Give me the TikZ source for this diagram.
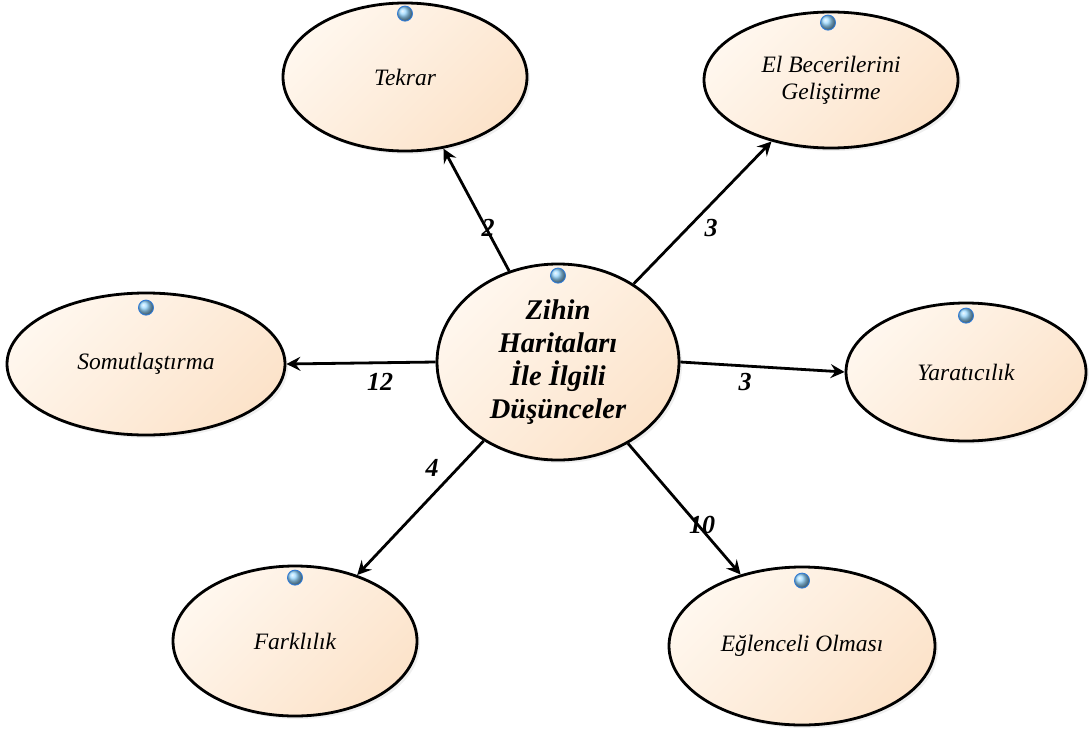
\documentclass[tikz,border=0pt]{standalone}
\usepackage{fontspec}
\setmainfont{Liberation Serif}
\usetikzlibrary{shapes.geometric,arrows.meta,shadows}

\definecolor{peachlight}{RGB}{255,247,238}
\definecolor{peachdark}{RGB}{252,227,202}
\definecolor{pinblue}{RGB}{150,215,255}

\tikzset{
  idea/.style={ellipse, draw=black, line width=2.8pt, inner sep=0pt,
    top color=peachlight, bottom color=peachdark, shading angle=45,
    drop shadow={shadow xshift=3pt, shadow yshift=-3pt, opacity=0.12, fill=gray},
    align=center, font=\fontsize{23.5}{27}\selectfont\itshape},
  hub/.style={idea, font=\fontsize{28.5}{33}\selectfont\bfseries\itshape},
  pin/.style={circle, inner sep=0pt, minimum size=15pt, ball color=pinblue,
    draw={rgb,255:red,50;green,125;blue,215}, line width=0.9pt},
  link/.style={line width=2.8pt, -{Stealth[length=14pt, width=14pt, inset=5pt]}},
  count/.style={font=\fontsize{26}{26}\selectfont\bfseries\itshape, inner sep=1pt}
}

\begin{document}
\begin{tikzpicture}[x=1pt, y=-1pt]
  \useasboundingbox (0,0) rectangle (1089,731);
  \fill[white] (0,0) rectangle (1089,731);

  % central idea and the six surrounding ideas
  \node[hub, minimum width=242pt, minimum height=196pt] (hub) at (558,362)
    {Zihin\\Haritaları\\İle İlgili\\Düşünceler};
  \node[idea, minimum width=244pt, minimum height=148pt] (tekrar) at (405,77) {Tekrar};
  \node[idea, minimum width=254pt, minimum height=136pt] (beceri) at (831,80)
    {El Becerilerini\\Geliştirme};
  \node[idea, minimum width=278pt, minimum height=142pt] (somut) at (146,364) {Somutlaştırma};
  \node[idea, minimum width=240pt, minimum height=138pt] (yarat) at (966,372) {Yaratıcılık};
  \node[idea, minimum width=244pt, minimum height=150pt] (fark) at (295,641) {Farklılık};
  \node[idea, minimum width=266pt, minimum height=158pt] (eglen) at (802,646) {Eğlenceli Olması};

  % small blue pins on top of each ellipse
  \node[pin] (phub) at ([yshift=-13pt]hub.north) {};
  \node[pin] (ptekrar) at ([yshift=-12pt]tekrar.north) {};
  \node[pin] (pberi) at ([xshift=-3pt, yshift=-12pt]beceri.north) {};
  \node[pin] (psomut) at ([yshift=-16pt]somut.north) {};
  \node[pin] (pyarat) at ([yshift=-14pt]yarat.north) {};
  \node[pin] (pfark) at ([yshift=-13pt]fark.north) {};
  \node[pin] (peglen) at ([yshift=-15pt]eglen.north) {};

  % connectors
  \draw[link] (hub) -- (tekrar);
  \draw[link] (hub) -- (beceri);
  \draw[link] (hub.west) -- (somut.east);
  \draw[link] (hub.east) -- (yarat.west);
  \draw[link] (hub) -- (fark);
  \draw[link] (hub) -- (eglen);

  % frequencies
  \node[count] (n2) at (488,228) {2};
  \node[count] (n3a) at (711,228) {3};
  \node[count] (n12) at (380,382) {12};
  \node[count] (n3b) at (745,382) {3};
  \node[count] (n4) at (432,468) {4};
  \node[count] (n10) at (702,525) {10};
\end{tikzpicture}
\end{document}
